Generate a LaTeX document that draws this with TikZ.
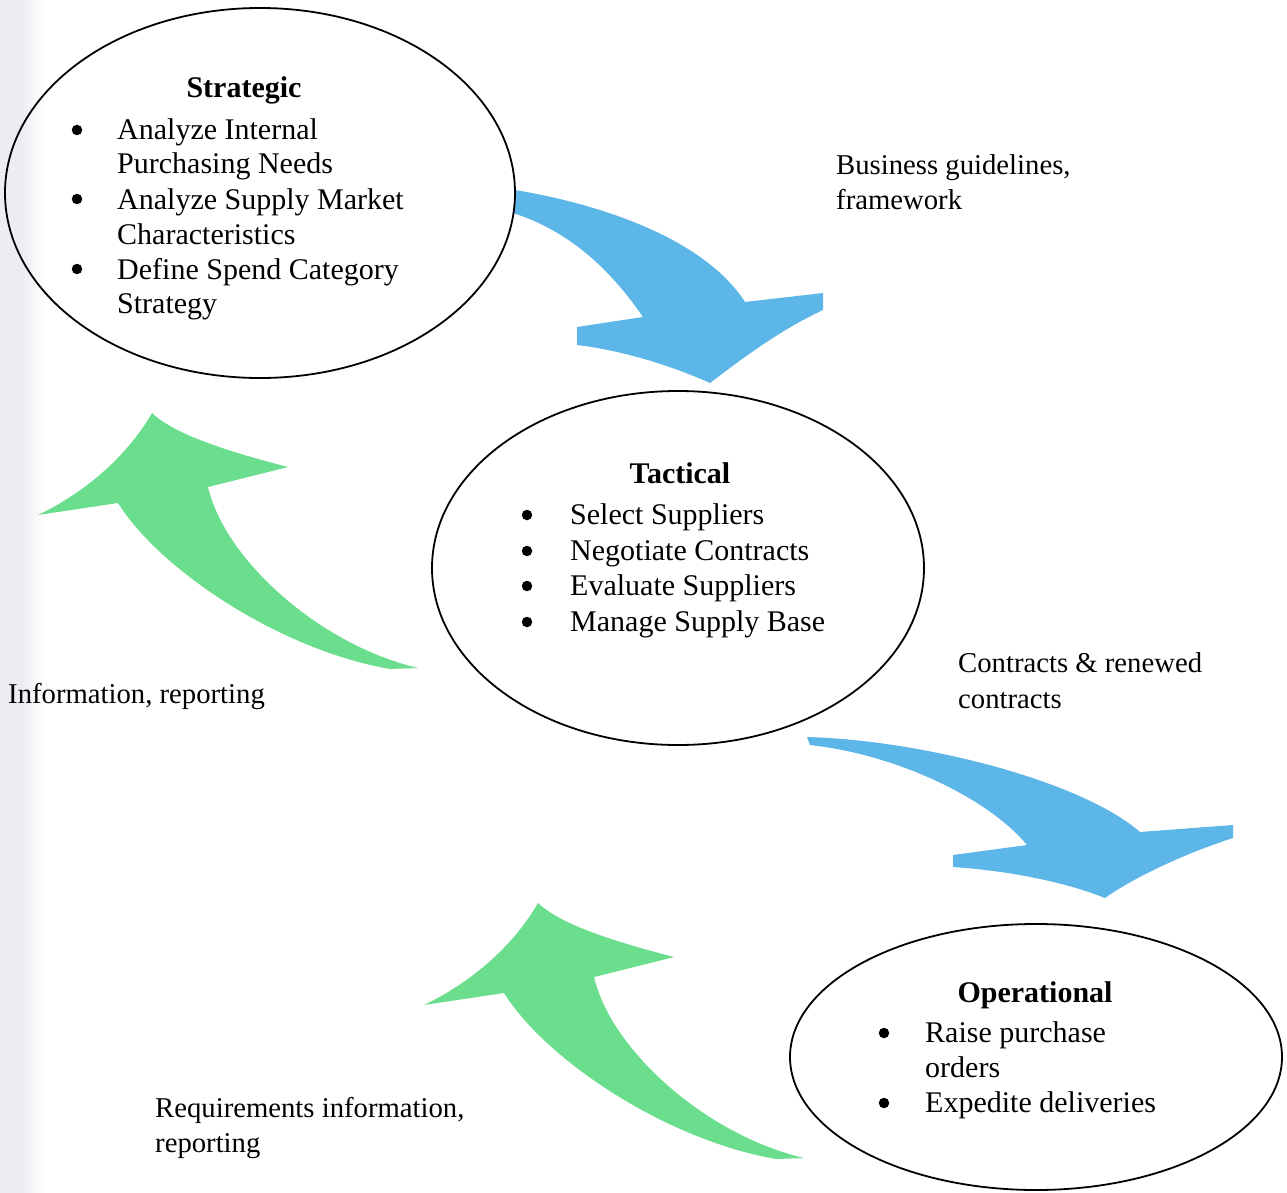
\documentclass[tikz,border=0pt]{standalone}
\usepackage{fontspec}
\setmainfont{Liberation Serif}
\usetikzlibrary{shapes.geometric}

\definecolor{flowblue}{HTML}{5CB6E7}
\definecolor{flowgreen}{HTML}{6ADE8D}
\definecolor{edgegray}{HTML}{ECEDF3}

\tikzset{
  level/.style={ellipse, draw=black, line width=1.8pt, inner sep=0pt},
  bodytext/.style={anchor=base west, inner sep=0pt, font=\fontsize{30}{36}\selectfont},
  headtext/.style={anchor=base, inner sep=0pt, font=\fontsize{30}{36}\selectfont\bfseries},
  dot/.style={circle, fill=black, inner sep=0pt, minimum size=10.5pt},
  caption/.style={anchor=base west, inner sep=0pt, font=\fontsize{28.7}{34}\selectfont},
  greenarrow/.pic={
    \fill[flowgreen] (152,413) .. controls (175,435) and (230,452) .. (288,467)
      -- (208,487) .. controls (225,560) and (320,645) .. (418,668)
      -- (390,669) .. controls (280,650) and (160,570) .. (118,503)
      -- (38,515) .. controls (80,495) and (125,460) .. (152,413) -- cycle;
  }
}

\begin{document}
\begin{tikzpicture}[x=1pt, y=-1pt]
\useasboundingbox (0,0) rectangle (1287,1193);
\fill[white] (0,0) rectangle (1287,1193);

% faint grey band along the left edge
\fill[edgegray] (0,0) rectangle (22,1193);
\shade[left color=edgegray, right color=white] (22,0) rectangle (44,1193);

% blue arrows: strategic -> tactical, tactical -> operational
\fill[flowblue] (515,190) .. controls (605,205) and (705,240) .. (745,302)
  -- (823,293) -- (823,310) .. controls (780,330) and (740,360) .. (710,383)
  .. controls (670,365) and (620,350) .. (577,345) -- (577,327) -- (643,317)
  .. controls (612,272) and (572,232) .. (513,213) -- cycle;

\fill[flowblue] (807,737) .. controls (920,740) and (1080,780) .. (1140,832)
  -- (1233,825) -- (1233,838) .. controls (1180,855) and (1130,880) .. (1105,898)
  .. controls (1060,880) and (1000,870) .. (953,867) -- (953,855) -- (1027,845)
  .. controls (990,800) and (900,755) .. (810,745) -- cycle;

% green arrows: feedback upward
\pic at (0,0) {greenarrow};
\pic at (386,490) {greenarrow};

% levels
\node[level, minimum width=510pt, minimum height=370pt] (strat) at (260,193) {};
\node[level, minimum width=492pt, minimum height=354pt] (tact) at (678,568) {};
\node[level, minimum width=492pt, minimum height=266pt] (oper) at (1036,1057) {};

% strategic text
\node[headtext] (sh) at (244,98) {Strategic};
\node[dot] (sb1) at (77,130) {};
\node[bodytext] (s1) at (117,140) {Analyze Internal};
\node[bodytext] (s2) at (117,174) {Purchasing Needs};
\node[dot] (sb2) at (77,199) {};
\node[bodytext] (s3) at (117,209) {Analyze Supply Market};
\node[bodytext] (s4) at (117,244) {Characteristics};
\node[dot] (sb3) at (77,269) {};
\node[bodytext] (s5) at (117,279) {Define Spend Category};
\node[bodytext] (s6) at (117,313) {Strategy};

% tactical text
\node[headtext] (th) at (680,483) {Tactical};
\node[dot] (tb1) at (527,515) {};
\node[bodytext] (t1) at (570,524) {Select Suppliers};
\node[dot] (tb2) at (527,551) {};
\node[bodytext] (t2) at (570,560) {Negotiate Contracts};
\node[dot] (tb3) at (527,586) {};
\node[bodytext] (t3) at (570,595) {Evaluate Suppliers};
\node[dot] (tb4) at (527,622) {};
\node[bodytext] (t4) at (570,631) {Manage Supply Base};

% operational text
\node[headtext] (oh) at (1035,1002) {Operational};
\node[dot] (ob1) at (884,1033) {};
\node[bodytext] (o1) at (925,1042) {Raise purchase};
\node[bodytext] (o2) at (925,1077) {orders};
\node[dot] (ob2) at (884,1103) {};
\node[bodytext] (o3) at (925,1112) {Expedite deliveries};

% flow captions
\node[caption] (c1a) at (836,175) {Business guidelines,};
\node[caption] (c1b) at (836,209) {framework};
\node[caption] (c2a) at (958,672) {Contracts \& renewed};
\node[caption] (c2b) at (958,708) {contracts};
\node[caption] (c3) at (8,703) {Information, reporting};
\node[caption] (c4a) at (155,1117) {Requirements information,};
\node[caption] (c4b) at (155,1152) {reporting};
\end{tikzpicture}
\end{document}
